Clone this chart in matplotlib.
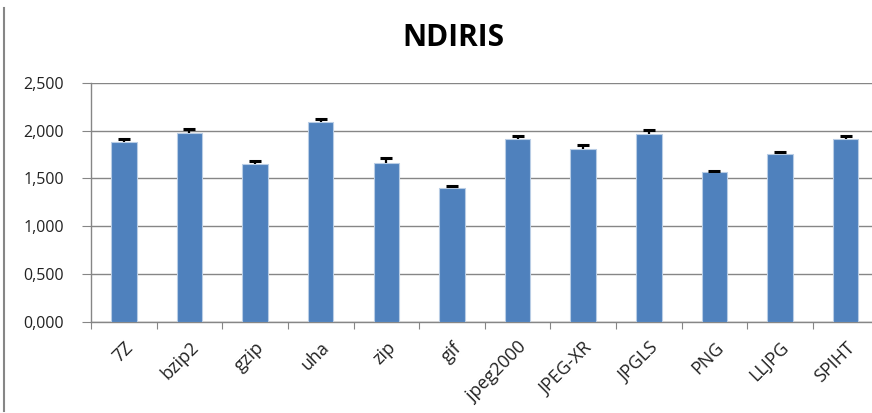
import matplotlib
matplotlib.use("Agg")
import matplotlib.pyplot as plt
from matplotlib.lines import Line2D
from matplotlib.ticker import FuncFormatter, MultipleLocator
import numpy as np

# data
methods = ["7Z", "bzip2", "gzip", "uha", "zip", "gif", "jpeg2000",
           "JPEG-XR", "JPGLS", "PNG", "LLJPG", "SPIHT"]
values = [1.882, 1.970, 1.652, 2.090, 1.656, 1.400, 1.917,
          1.806, 1.959, 1.563, 1.757, 1.907]
errors = [0.030, 0.045, 0.030, 0.035, 0.055, 0.025, 0.028,
          0.038, 0.048, 0.014, 0.014, 0.038]

plt.rcParams['font.family'] = ['Open Sans', 'DejaVu Sans']

W, H = 872, 413
fig = plt.figure(figsize=(W / 100, H / 100), dpi=100)
fig.patch.set_facecolor("white")

# axes box (pixel coords from the picture, right edge runs off the image)
left, right, top, bottom = 91, 878.5, 82.7, 322
ax = fig.add_axes([left / W, 1 - bottom / H, (right - left) / W, (bottom - top) / H])

x = np.arange(len(methods))
ax.bar(x, values, width=0.39, color="#4F81BD", edgecolor="#B9CDE5",
       linewidth=0.8, zorder=3)
# plus-only error bars (Excel style)
tops = np.array(values) + np.array(errors)
ax.vlines(x, values, tops, color="black", linewidth=1.6, zorder=4)
ax.plot(x, tops, linestyle="none", marker="_", markersize=9,
        markeredgewidth=2.2, color="black", zorder=4)

ax.set_xlim(-0.5, len(methods) - 0.5)
ax.set_ylim(0, 2.5)
ax.yaxis.set_major_locator(MultipleLocator(0.5))

def fmt(v, p):
    return f"{v:,.3f}".replace(".", ",")
ax.yaxis.set_major_formatter(FuncFormatter(fmt))

ax.yaxis.grid(True, color="#868686", linewidth=1.0, zorder=0)
ax.set_axisbelow(True)
for s in ["top", "right"]:
    ax.spines[s].set_visible(False)
for s in ["left", "bottom"]:
    ax.spines[s].set_color("#868686")
    ax.spines[s].set_linewidth(1.0)

ax.set_xticks(np.arange(len(methods) + 1) - 0.5, minor=False)
ax.set_xticklabels([])
ax.tick_params(axis="x", which="major", length=5, color="#868686", direction="out")
ax.set_xticks(x, minor=True)
ax.set_xticklabels(methods, minor=True, rotation=45, ha="right",
                   rotation_mode="anchor", fontsize=13, color="#222222")
ax.tick_params(axis="x", which="minor", length=0, pad=12)
ax.tick_params(axis="y", length=6.5, color="#868686", labelsize=11.5,
               labelcolor="#222222", pad=13)

fig.text(453 / W, 1 - 38 / H, "NDIRIS", ha="center", va="center",
         fontsize=21.5, fontweight="bold", color="black")

# chart frame line on the left
fig.add_artist(Line2D([3.5 / W, 3.5 / W], [1 - 8 / H, 1 - 411 / H],
                      color="#868686", linewidth=1.5))

fig.savefig("out.png", dpi=100, facecolor="white")
